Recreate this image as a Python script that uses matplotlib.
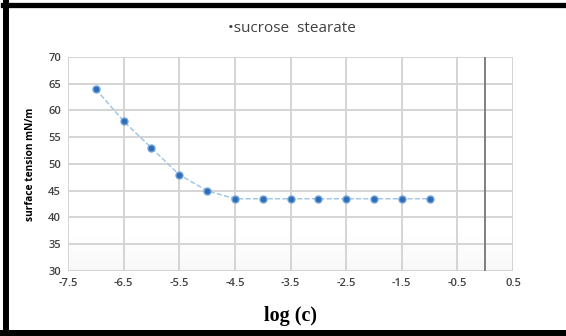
import numpy as np
import matplotlib.pyplot as plt
from matplotlib.lines import Line2D

# datos
log_c = [-7, -6.5, -6, -5.5, -5, -4.5, -4, -3.5, -3, -2.5, -2, -1.5, -1]
tension = [64, 58, 53, 48, 45, 43.5, 43.5, 43.5, 43.5, 43.5, 43.5, 43.5, 43.5]
xticks = [-7.5, -6.5, -5.5, -4.5, -3.5, -2.5, -1.5, -0.5, 0.5]
yticks = [30, 35, 40, 45, 50, 55, 60, 65, 70]

plt.rcParams['font.family'] = ['Open Sans', 'DejaVu Sans']

fig = plt.figure(figsize=(5.66, 3.36), dpi=100)
ax = fig.add_axes([68/566, 65/336, 445/566, 214/336])

# degradado suave en la parte baja
grad = np.linspace(0, 1, 50).reshape(-1, 1)
ax.imshow(grad, extent=[-7.5, 0.5, 30, 37], aspect='auto', cmap='Greys',
          vmin=0, vmax=18, origin='upper', zorder=0)

ax.set_xlim(-7.5, 0.5)
ax.set_ylim(30, 70)
ax.set_xticks(xticks)
ax.set_yticks(yticks)
ax.set_xticklabels([('%g' % t) for t in xticks])
ax.grid(True, color='#d4d4d4', linewidth=1.4, zorder=1)
ax.tick_params(length=0, labelsize=8, colors='#404040', pad=5)
for lab in ax.get_xticklabels() + ax.get_yticklabels():
    lab.set_fontweight('semibold')
for s in ax.spines.values():
    s.set_visible(False)
ax.axhline(30, color='#c0c0c0', linewidth=1.4, zorder=1)
ax.axvline(0, color='#7f7f7f', linewidth=1.4, zorder=2)

ax.plot(log_c, tension, linestyle='--', color='#9dc3e6', linewidth=1,
        marker='o', markersize=5, markerfacecolor='#2e6db4',
        markeredgecolor='#6fa3dc', markeredgewidth=1, zorder=3)

ax.set_ylabel('surface tension mN/m', fontsize=7.3, fontweight='bold', labelpad=9)
fig.text(290/566, 1 - 316/336, 'log (c)', ha='center', va='center',
         family='Liberation Serif', fontweight='bold', fontsize=14.5)
fig.text(292/566, 1 - 29/336, '•sucrose  stearate', ha='center', va='center',
         fontsize=11, color='#404040')

# marco exterior
fig.add_artist(Line2D([6/566, 6/566], [0, 1 - 3/336], transform=fig.transFigure,
                      color='black', linewidth=4.3))
fig.add_artist(Line2D([3/566, 1], [1 - 4.5/336, 1 - 4.5/336], transform=fig.transFigure,
                      color='black', linewidth=3.8))
fig.add_artist(Line2D([3/566, 1], [3/336, 3/336], transform=fig.transFigure,
                      color='black', linewidth=4.3))

plt.savefig('out.png', dpi=100, facecolor='white')
